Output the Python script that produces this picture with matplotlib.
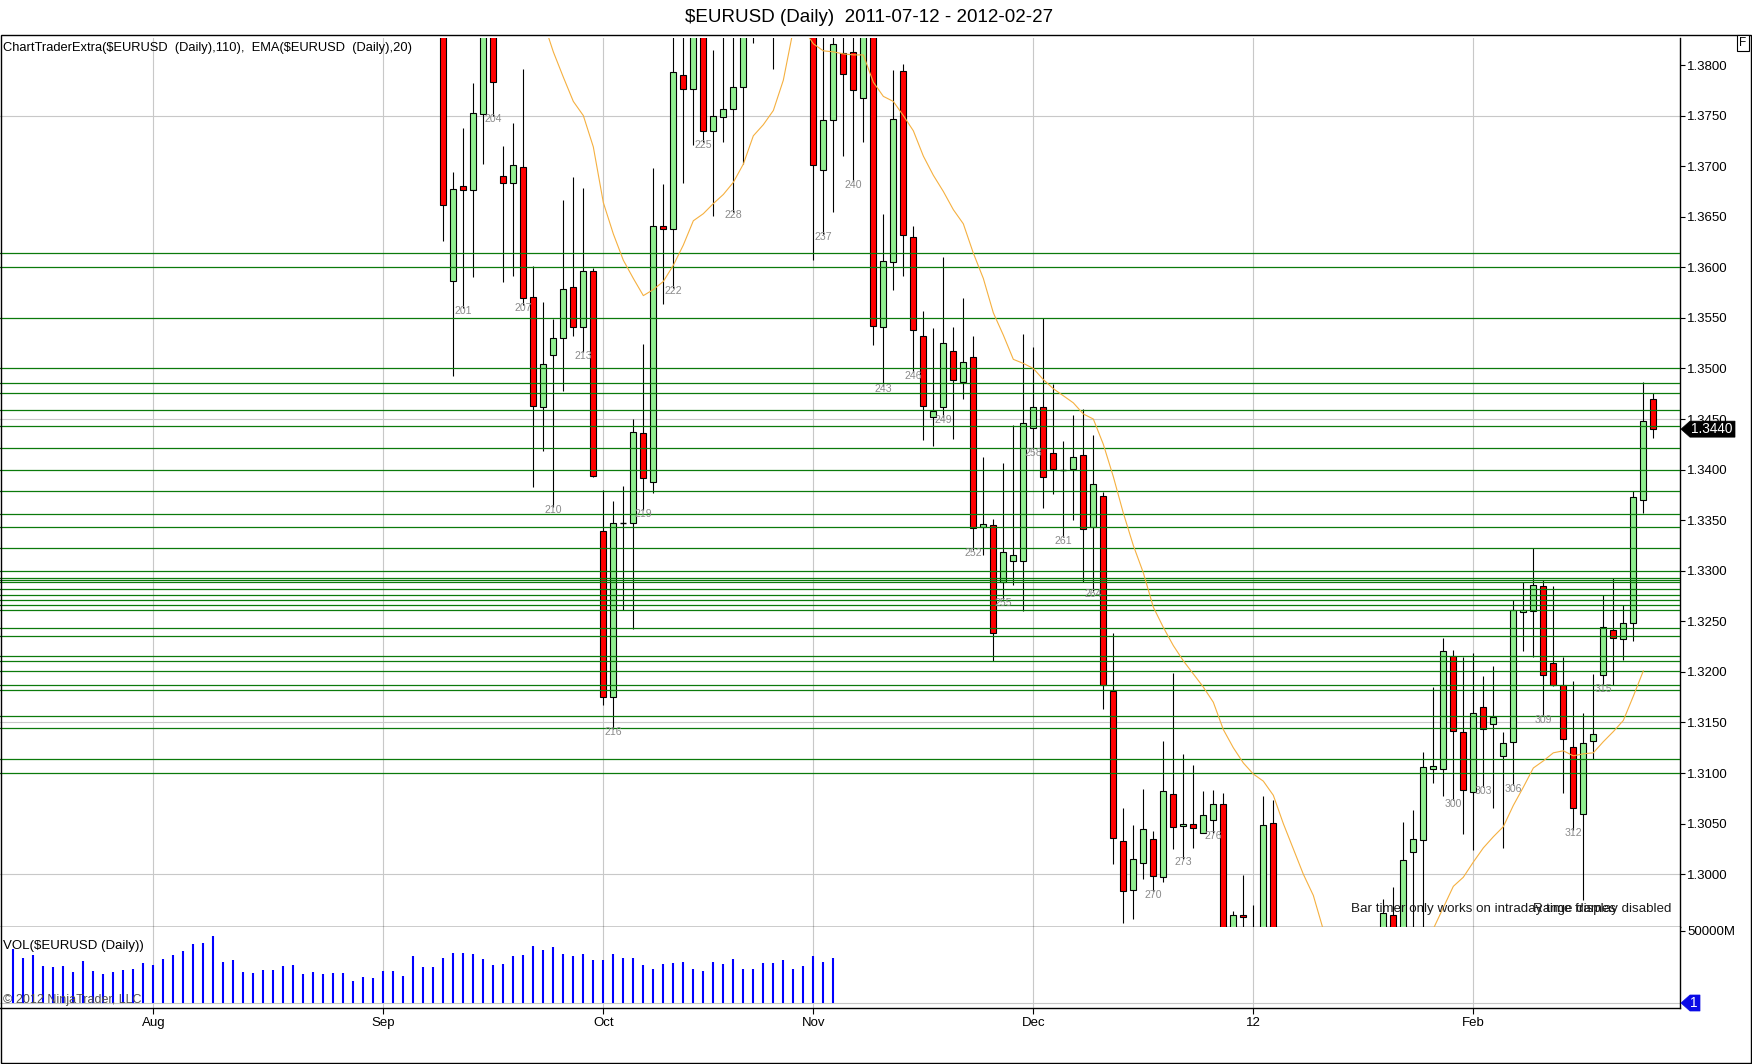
import numpy as np
import pandas as pd
import matplotlib
matplotlib.use("Agg")
import matplotlib.pyplot as plt
from matplotlib.patches import Polygon, Rectangle

plt.rcParams['font.family'] = ['Liberation Sans', 'DejaVu Sans']

# ---------------- data ----------------
title = "$EURUSD (Daily)  2011-07-12 - 2012-02-27"
indicator_text = "ChartTraderExtra($EURUSD  (Daily),110),  EMA($EURUSD  (Daily),20)"
volume_text = "VOL($EURUSD (Daily))"
start_date = "2011-07-12"
end_date = "2012-02-27"
first_bar_number = 156          # bar number of the first session (2011-07-12)
month_labels = ["Aug", "Sep", "Oct", "Nov", "Dec", "12", "Feb"]

# OHLC for bars 199 .. 320
candle_first_bar = 199
opens = [1.3872, 1.3586, 1.3680, 1.3676, 1.3752, 1.3860, 1.3690, 1.3683, 1.3699, 1.3571,
         1.3462, 1.3513, 1.3530, 1.3581, 1.3541, 1.3596, 1.3339, 1.3175, 1.3347, 1.3347,
         1.3436, 1.3388, 1.3641, 1.3638, 1.3790, 1.3776, 1.3865, 1.3735, 1.3749, 1.3757,
         1.3778, 1.3880, 1.3850, 1.3900, 1.3860, 1.3950, 1.4150, 1.3860, 1.3696, 1.3746,
         1.3812, 1.3813, 1.3767, 1.3840, 1.3541, 1.3605, 1.3794, 1.3630, 1.3532, 1.3452,
         1.3462, 1.3517, 1.3487, 1.3511, 1.3343, 1.3345, 1.3289, 1.3310, 1.3310, 1.3441,
         1.3462, 1.3416, 1.3400, 1.3401, 1.3414, 1.3343, 1.3374, 1.3181, 1.3033, 1.2984,
         1.3011, 1.3035, 1.2997, 1.3079, 1.3048, 1.3050, 1.3041, 1.3054, 1.3069, 1.2930,
         1.2960, 1.2945, 1.2935, 1.3051, 1.2937, 1.2785, 1.2720, 1.2765, 1.2795, 1.2715,
         1.2815, 1.2670, 1.2665, 1.2740, 1.2855, 1.2960, 1.2930, 1.3022, 1.3034, 1.3104,
         1.3104, 1.3216, 1.3141, 1.3081, 1.3165, 1.3148, 1.3117, 1.3131, 1.3259, 1.3260,
         1.3285, 1.3209, 1.3187, 1.3126, 1.3060, 1.3132, 1.3197, 1.3241, 1.3233, 1.3248,
         1.3370, 1.3470]
highs = [1.3890, 1.3694, 1.3738, 1.3782, 1.3890, 1.3905, 1.3720, 1.3743, 1.3796, 1.3601,
         1.3566, 1.3549, 1.3667, 1.3689, 1.3678, 1.3599, 1.3380, 1.3369, 1.3384, 1.3450,
         1.3524, 1.3698, 1.3682, 1.3860, 1.3850, 1.3900, 1.3890, 1.3815, 1.3840, 1.3845,
         1.3905, 1.3930, 1.3950, 1.3960, 1.3970, 1.4240, 1.4170, 1.3880, 1.3860, 1.3850,
         1.3850, 1.3860, 1.3860, 1.3860, 1.3653, 1.3795, 1.3801, 1.3641, 1.3557, 1.3540,
         1.3610, 1.3541, 1.3570, 1.3532, 1.3412, 1.3351, 1.3407, 1.3444, 1.3534, 1.3521,
         1.3550, 1.3485, 1.3428, 1.3454, 1.3460, 1.3434, 1.3378, 1.3238, 1.3065, 1.3049,
         1.3084, 1.3043, 1.3132, 1.3199, 1.3119, 1.3108, 1.3082, 1.3083, 1.3080, 1.2964,
         1.2999, 1.2970, 1.3077, 1.3073, 1.2945, 1.2800, 1.2785, 1.2815, 1.2815, 1.2830,
         1.2880, 1.2705, 1.2780, 1.2870, 1.2975, 1.2987, 1.3052, 1.3063, 1.3121, 1.3185,
         1.3234, 1.3222, 1.3215, 1.3219, 1.3196, 1.3206, 1.3141, 1.3271, 1.3289, 1.3322,
         1.3291, 1.3285, 1.3215, 1.3191, 1.3159, 1.3198, 1.3276, 1.3293, 1.3266, 1.3379,
         1.3487, 1.3476]
lows = [1.3626, 1.3493, 1.3560, 1.3590, 1.3702, 1.3750, 1.3585, 1.3591, 1.3563, 1.3383,
        1.3418, 1.3363, 1.3478, 1.3532, 1.3516, 1.3393, 1.3167, 1.3144, 1.3261, 1.3242,
        1.3360, 1.3377, 1.3564, 1.3580, 1.3683, 1.3721, 1.3724, 1.3651, 1.3724, 1.3655,
        1.3702, 1.3822, 1.3840, 1.3796, 1.3845, 1.3930, 1.3850, 1.3607, 1.3633, 1.3655,
        1.3710, 1.3685, 1.3724, 1.3523, 1.3483, 1.3578, 1.3591, 1.3496, 1.3429, 1.3423,
        1.3452, 1.3430, 1.3470, 1.3321, 1.3316, 1.3211, 1.3272, 1.3286, 1.3260, 1.3420,
        1.3362, 1.3376, 1.3333, 1.3350, 1.3289, 1.3280, 1.3163, 1.3010, 1.2952, 1.2956,
        1.2995, 1.2983, 1.2992, 1.3025, 1.3015, 1.3026, 1.3041, 1.3041, 1.2930, 1.2860,
        1.2925, 1.2905, 1.2925, 1.2925, 1.2770, 1.2700, 1.2690, 1.2725, 1.2700, 1.2700,
        1.2624, 1.2625, 1.2640, 1.2730, 1.2840, 1.2900, 1.2920, 1.2946, 1.2946, 1.3090,
        1.3077, 1.3073, 1.3040, 1.3024, 1.3086, 1.3065, 1.3026, 1.3088, 1.3221, 1.3215,
        1.3156, 1.3186, 1.3080, 1.3044, 1.2974, 1.3114, 1.3187, 1.3187, 1.3212, 1.3231,
        1.3357, 1.3431]
closes = [1.3662, 1.3677, 1.3676, 1.3753, 1.3860, 1.3783, 1.3683, 1.3701, 1.3570, 1.3463,
          1.3504, 1.3530, 1.3579, 1.3541, 1.3596, 1.3394, 1.3175, 1.3347, 1.3347, 1.3437,
          1.3392, 1.3641, 1.3638, 1.3793, 1.3776, 1.3870, 1.3735, 1.3750, 1.3757, 1.3778,
          1.3880, 1.3850, 1.3900, 1.3860, 1.3950, 1.4150, 1.3860, 1.3701, 1.3746, 1.3821,
          1.3791, 1.3775, 1.3840, 1.3542, 1.3606, 1.3747, 1.3632, 1.3538, 1.3463, 1.3458,
          1.3525, 1.3489, 1.3506, 1.3342, 1.3346, 1.3238, 1.3319, 1.3316, 1.3446, 1.3462,
          1.3393, 1.3401, 1.3400, 1.3412, 1.3341, 1.3386, 1.3187, 1.3036, 1.2983, 1.3015,
          1.3045, 1.2998, 1.3082, 1.3047, 1.3050, 1.3046, 1.3059, 1.3069, 1.2940, 1.2960,
          1.2958, 1.2935, 1.3049, 1.2940, 1.2785, 1.2720, 1.2765, 1.2795, 1.2715, 1.2815,
          1.2670, 1.2665, 1.2740, 1.2855, 1.2962, 1.2930, 1.3014, 1.3035, 1.3106, 1.3107,
          1.3221, 1.3142, 1.3083, 1.3159, 1.3144, 1.3155, 1.3130, 1.3261, 1.3261, 1.3286,
          1.3197, 1.3187, 1.3134, 1.3065, 1.3130, 1.3139, 1.3244, 1.3234, 1.3248, 1.3373,
          1.3448, 1.3440]

# EMA(20) as drawn, bars 209 .. 319
ema_first_bar = 209
ema_values = [1.3843, 1.3813, 1.3788, 1.3764, 1.3750, 1.3719, 1.3664, 1.3633, 1.3607, 1.3589,
              1.3572, 1.3578, 1.3586, 1.3602, 1.3622, 1.3646, 1.3653, 1.3663, 1.3672, 1.3684,
              1.3702, 1.3730, 1.3741, 1.3755, 1.3785, 1.3835, 1.3836, 1.3821, 1.3814, 1.3813,
              1.3811, 1.3810, 1.3810, 1.3783, 1.3769, 1.3764, 1.3750, 1.3735, 1.3710, 1.3691,
              1.3675, 1.3657, 1.3643, 1.3614, 1.3589, 1.3555, 1.3533, 1.3509, 1.3505, 1.3500,
              1.3489, 1.3480, 1.3473, 1.3466, 1.3455, 1.3450, 1.3425, 1.3393, 1.3357, 1.3325,
              1.3298, 1.3264, 1.3244, 1.3226, 1.3211, 1.3198, 1.3185, 1.3170, 1.3143, 1.3125,
              1.3110, 1.3099, 1.3092, 1.3078, 1.3050, 1.3025, 1.3000, 1.2979, 1.2945, 1.2925,
              1.2905, 1.2890, 1.2875, 1.2868, 1.2875, 1.2885, 1.2898, 1.2912, 1.2928, 1.2946,
              1.2967, 1.2988, 1.2997, 1.3012, 1.3026, 1.3037, 1.3047, 1.3068, 1.3086, 1.3105,
              1.3112, 1.3120, 1.3122, 1.3117, 1.3119, 1.3120, 1.3131, 1.3141, 1.3152, 1.3176,
              1.3201]

# ChartTraderExtra horizontal levels
levels = [1.3614, 1.3600, 1.3550, 1.3500, 1.3486, 1.3476, 1.3459, 1.3443, 1.3421, 1.3400,
          1.3379, 1.3356, 1.3343, 1.3322, 1.3300, 1.3293, 1.3291, 1.3289, 1.3282, 1.3276,
          1.3271, 1.3266, 1.3261, 1.3243, 1.3235, 1.3216, 1.3211, 1.3201, 1.3187, 1.3182,
          1.3156, 1.3145, 1.3114, 1.3100]
grid_levels = [1.3000, 1.3150, 1.3450, 1.3750]

# bar numbers printed under the lows
label_bars = [201, 204, 207, 210, 213, 216, 219, 222, 225, 228, 237, 240, 243, 246, 249,
              252, 255, 258, 261, 264, 270, 273, 276, 300, 303, 306, 309, 312, 315]

# Volume (millions), bars 156 .. 238
volume_first_bar = 156
volumes = [37040, 30790, 33105, 25465, 25002, 25465, 21530, 28938, 21993, 20372,
           21298, 22687, 23845, 27317, 26160, 30327, 33105, 35883, 40744, 41207,
           46300, 28243, 29632, 21298, 20604, 23150, 23150, 25465, 26160, 19909,
           21298, 20372, 20835, 21067, 15511, 18057, 17131, 21993, 21993, 18520,
           32410, 24771, 24771, 30790, 34262, 34262, 33568, 30095, 26160, 26854,
           32410, 33105, 39355, 36577, 38429, 33568, 32410, 33568, 29632, 29632,
           33568, 30790, 30790, 26160, 23382, 26854, 27317, 28012, 23845, 21993,
           28243, 26854, 30327, 23382, 23382, 27317, 27317, 29401, 23845, 25465,
           32410, 28243, 30790]
last_volume = 1

# ---------------- figure ----------------
W, H = 1752, 1064
fig = plt.figure(figsize=(W / 100, H / 100), dpi=100)
fig.patch.set_facecolor('white')


def frac(x0, y0, x1, y1):
    return [x0 / W, 1 - y1 / H, (x1 - x0) / W, (y1 - y0) / H]


ax = fig.add_axes(frac(0, 38, 1680, 927.3))
axv = fig.add_axes(frac(0, 927.3, 1680, 1008.3))

dates = pd.bdate_range(start_date, end_date)
n = len(dates)
month_idx = [i for i in range(1, n) if dates[i].month != dates[i - 1].month]

xlim = (-1.333, 166.667)
for a in (ax, axv):
    a.set_xlim(*xlim)
    a.set_facecolor('white')
    for s in ('left', 'top'):
        a.spines[s].set_visible(False)
    for s in ('right', 'bottom'):
        a.spines[s].set_color('black')
        a.spines[s].set_linewidth(1.0)
    for xi in month_idx:
        a.axvline(xi, color='#C8C8C8', lw=0.8, zorder=0)

ax.set_ylim(1.29475, 1.38267)
axv.set_ylim(-3665, 52351)

# price axis
ticks = np.round(np.arange(1.3000, 1.38001, 0.005), 4)
ax.yaxis.tick_right()
ax.set_yticks(ticks)
ax.set_yticklabels([f"{t:.4f}" for t in ticks])
ax.tick_params(axis='y', direction='out', length=3.5, width=0.8, labelsize=9.5, pad=1.5,
               colors='black')
ax.tick_params(axis='x', bottom=False, labelbottom=False)

for g in grid_levels:
    ax.axhline(g, color='#C8C8C8', lw=0.8, zorder=0)

# candles
cx = np.arange(len(opens)) + candle_first_bar - first_bar_number
o = np.array(opens)
h = np.array(highs)
l = np.array(lows)
c = np.array(closes)
ax.vlines(cx, l, h, color='black', lw=0.8, zorder=2)
doji = np.abs(c - o) < 0.00005
up = (c > o) & ~doji
dn = (c < o) & ~doji
bw = 0.62
ax.bar(cx[up], (c - o)[up], bottom=o[up], width=bw, color='#90EE90',
       edgecolor='black', linewidth=0.8, zorder=3)
ax.bar(cx[dn], (o - c)[dn], bottom=c[dn], width=bw, color='#FF0000',
       edgecolor='black', linewidth=0.8, zorder=3)
ax.hlines(c[doji], cx[doji] - bw / 2, cx[doji] + bw / 2, color='black', lw=1.0, zorder=3)

# ChartTraderExtra levels
for lv in levels:
    ax.axhline(lv, color='#0B7A0B', lw=0.9, zorder=4)

# EMA
ex = np.arange(len(ema_values)) + ema_first_bar - first_bar_number
ax.plot(ex, ema_values, color='#F5B040', lw=0.8, zorder=5)

# bar numbers
for b in label_bars:
    j = b - candle_first_bar
    ax.annotate(str(b), (b - first_bar_number, lows[j]), xytext=(0, -2.5),
                textcoords='offset points', ha='center', va='center',
                fontsize=7.6, color='#8A8A8A', zorder=6, annotation_clip=True)

# volume
vx = np.arange(len(volumes)) + volume_first_bar - first_bar_number
axv.vlines(vx, 0, volumes, color='#0000FF', lw=1.5, zorder=2)
axv.axhline(0, color='#C8C8C8', lw=0.8, zorder=1)
axv.yaxis.tick_right()
axv.set_yticks([50000])
axv.set_yticklabels(["50000M"])
axv.tick_params(axis='y', direction='out', length=3.5, width=0.8, labelsize=9.5, pad=1.5)
axv.set_xticks(month_idx)
axv.set_xticklabels(month_labels)
axv.tick_params(axis='x', direction='out', length=4.3, width=0.8, labelsize=9.5, pad=2.0)

# texts
fig.text(869 / W, 1 - 17 / H, title, ha='center', va='center', fontsize=13.5,
         parse_math=False)
fig.text(3 / W, 1 - 47.5 / H, indicator_text, ha='left', va='center', fontsize=9.3,
         parse_math=False)
fig.text(3 / W, 1 - 946.5 / H, volume_text, ha='left', va='center', fontsize=9.5,
         parse_math=False)
fig.text(3 / W, 1 - 1000 / H, "\u00a9 2012 NinjaTrader, LLC", ha='left', va='center',
         fontsize=9, color='#505050')
fig.text(1351 / W, 1 - 909 / H, "Bar timer only works on intraday time frames",
         ha='left', va='center', fontsize=9.6, color='#1A1A1A')
fig.text(1671 / W, 1 - 909 / H, "Range display disabled",
         ha='right', va='center', fontsize=9.6, color='#1A1A1A')
fig.text(1743 / W, 1 - 43 / H, "F", ha='center', va='center', fontsize=8.5,
         bbox=dict(boxstyle='square,pad=0.18', fc='white', ec='black', lw=0.8))

# outer frame
fig.add_artist(Rectangle((0.5 / W, 1 - 1063 / H), 1750 / W, (1063 - 35) / H,
                         transform=fig.transFigure, fill=False, ec='black', lw=1.0))

# last price marker
inv = fig.transFigure.inverted()


def marker(axis, value, color, text, x_right):
    yd = axis.transData.transform((0, value))[1]
    pts_px = [(1681, yd), (1690, yd + 8), (x_right, yd + 8), (x_right, yd - 8), (1690, yd - 8)]
    pts = [inv.transform(p) for p in pts_px]
    fig.add_artist(Polygon(pts, closed=True, transform=fig.transFigure,
                           fc=color, ec=color, lw=0.5, zorder=10))
    xm = (1690 + x_right) / 2
    fig.text(*inv.transform((xm - 1, yd)), text, ha='center', va='center',
             fontsize=9.8, color='white', zorder=11)


marker(ax, closes[-1], 'black', f"{closes[-1]:.4f}", 1735)
marker(axv, last_volume, '#0A0AE6', str(last_volume), 1700)

fig.savefig('out.png', dpi=100)
